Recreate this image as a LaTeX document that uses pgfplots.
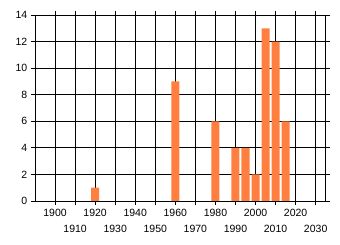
\documentclass[border=0pt]{standalone}
\usepackage{pgfplots}
\pgfplotsset{compat=1.18}
\usepackage{fontspec}
\setmainfont{Liberation Sans}
\definecolor{barc}{RGB}{255,127,64}
\begin{document}
\fontsize{10.5}{12}\selectfont
\begin{tikzpicture}
\path[use as bounding box] (-35pt,-44pt) rectangle (305pt,201pt);
\begin{axis}[
  at={(0pt,0pt)}, anchor=south west,
  scale only axis, width=290.7pt, height=186pt,
  xmin=1890, xmax=2035, ymin=0, ymax=14,
  ytick={0,2,...,14},
  xtick={1900,1920,...,2020},
  extra x ticks={1910,1930,...,2030},
  extra x tick style={grid=major, xticklabel style={yshift=-16pt}},
  grid=major,
  major grid style={black, line width=0.9pt},
  axis line style={black, line width=0.9pt},
  tick align=outside, major tick length=4pt,
  tick style={black, line width=0.9pt},
  xticklabel style={/pgf/number format/1000 sep={}, font=\fontsize{10.5}{12}\selectfont},
  yticklabel style={font=\fontsize{10.5}{12}\selectfont},
  /pgf/number format/assume math mode=true,
  ybar, bar width=4, bar shift=0pt,
]
\addplot[fill=barc, draw=none] coordinates {
 (1920,1) (1960,9) (1980,6) (1990,4) (1995,4) (2000,2) (2005,13) (2010,12) (2015,6)
};
\end{axis}
\end{tikzpicture}
\end{document}
